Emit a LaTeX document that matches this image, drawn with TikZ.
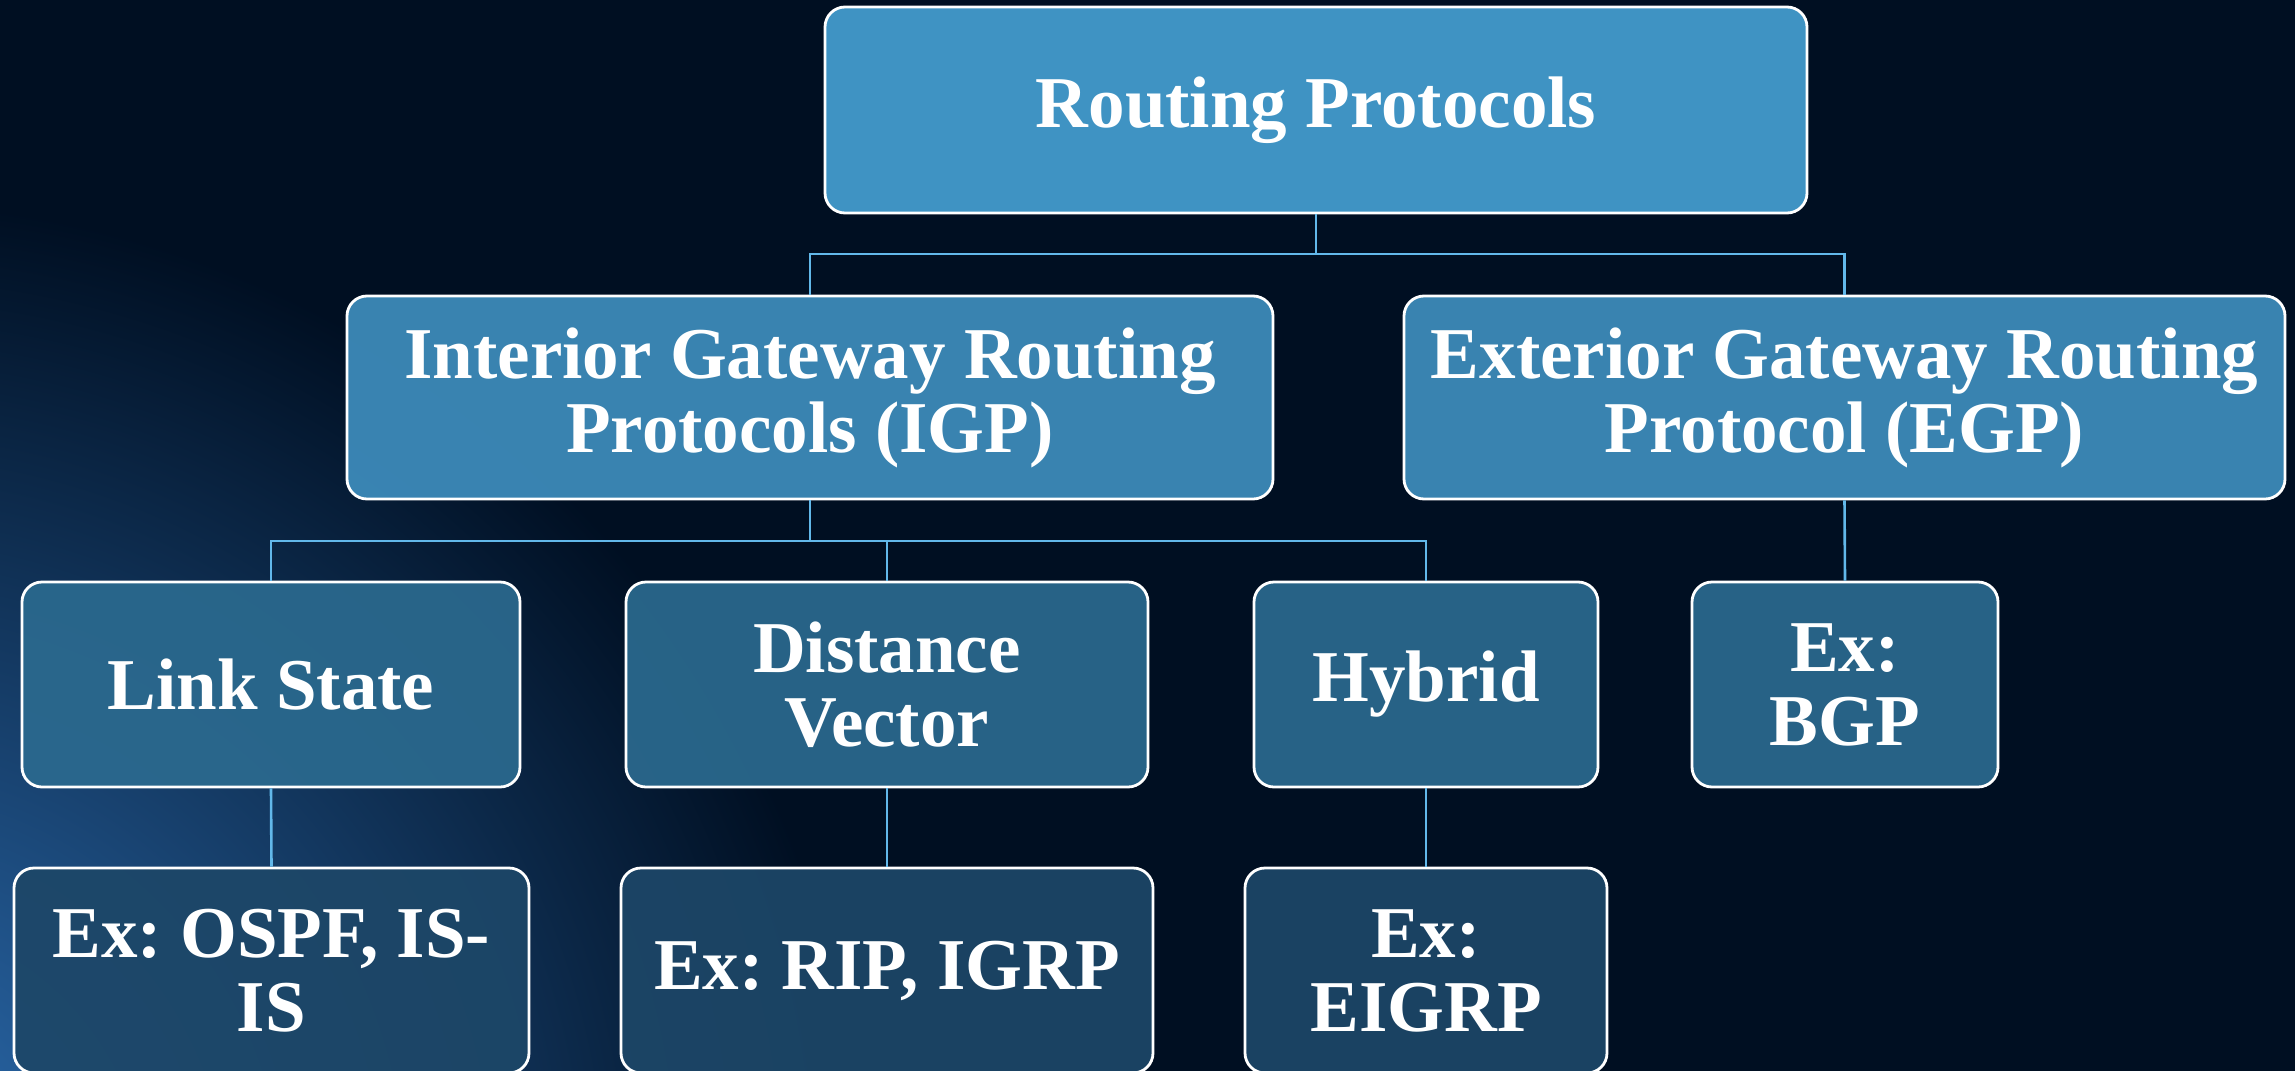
\documentclass[tikz,border=0pt]{standalone}
\usepackage{fontspec}
\setmainfont{Liberation Serif}
\usetikzlibrary{positioning}
\definecolor{bgcol}{HTML}{000F22}
\definecolor{glowcol}{HTML}{2D6FB4}
\definecolor{lvlA}{HTML}{459FD1}
\definecolor{lvlB}{HTML}{3E8DBD}
\definecolor{lvlC}{HTML}{2B6A8F}
\definecolor{lvlD}{HTML}{1D4768}
\definecolor{conncol}{HTML}{62B8EA}
\tikzset{
  box/.style={draw=white, line width=2.8pt, rounded corners=20pt, text=white,
    font=\fontsize{73}{74}\selectfont\bfseries\frenchspacing, align=center, inner sep=0pt,
    fill opacity=0.92, text opacity=1},
  conn/.style={draw=conncol, line width=2.6pt},
}
\begin{document}
\begin{tikzpicture}[x=1pt,y=-1pt]
\useasboundingbox (0,0) rectangle (2295,1071);
\clip (0,0) rectangle (2295,1071);
\fill[bgcol] (0,0) rectangle (2295,1071);
\shade[inner color=glowcol, outer color=bgcol] (-140,1200) circle (1000);
\coordinate (bus1) at (0,254);
\coordinate (bus2) at (0,541);
% nodes
\node[box, fill=lvlA, minimum width=982pt, minimum height=206pt] (root) at (1316,110) {Routing Protocols};
\node[box, fill=lvlB, minimum width=926pt, minimum height=203pt] (igp) at (810,397.5) {Interior Gateway Routing\\Protocols (IGP)};
\node[box, fill=lvlB, minimum width=881pt, minimum height=203pt] (egp) at (1844.5,397.5) {Exterior Gateway Routing\\Protocol (EGP)};
\node[box, fill=lvlC, minimum width=498pt, minimum height=205pt] (ls) at (271,684.5) {Link State};
\node[box, fill=lvlC, minimum width=522pt, minimum height=205pt] (dv) at (887,684.5) {Distance\\Vector};
\node[box, fill=lvlC, minimum width=344pt, minimum height=205pt] (hy) at (1426,684.5) {Hybrid};
\node[box, fill=lvlC, minimum width=306pt, minimum height=205pt] (bgp) at (1845,684.5) {Ex:\\BGP};
\node[box, fill=lvlD, minimum width=515pt, minimum height=205pt] (lsx) at (271.5,970.5) {Ex: OSPF, IS-\\IS};
\node[box, fill=lvlD, minimum width=532pt, minimum height=205pt] (dvx) at (887,970.5) {Ex: RIP, IGRP};
\node[box, fill=lvlD, minimum width=362pt, minimum height=205pt] (hyx) at (1426,970.5) {Ex:\\EIGRP};
% connectors
\draw[conn] (root.south) -- (root.south |- bus1) -| (igp.north);
\draw[conn] (root.south |- bus1) -| (egp.north);
\draw[conn] (igp.south) -- (igp.south |- bus2) -| (ls.north);
\draw[conn] (igp.south |- bus2) -| (dv.north);
\draw[conn] (igp.south |- bus2) -| (hy.north);
\draw[conn] (egp.south) -- (bgp.north);
\draw[conn] (ls.south) -- (lsx.north);
\draw[conn] (dv.south) -- (dvx.north);
\draw[conn] (hy.south) -- (hyx.north);
\end{tikzpicture}
\end{document}
